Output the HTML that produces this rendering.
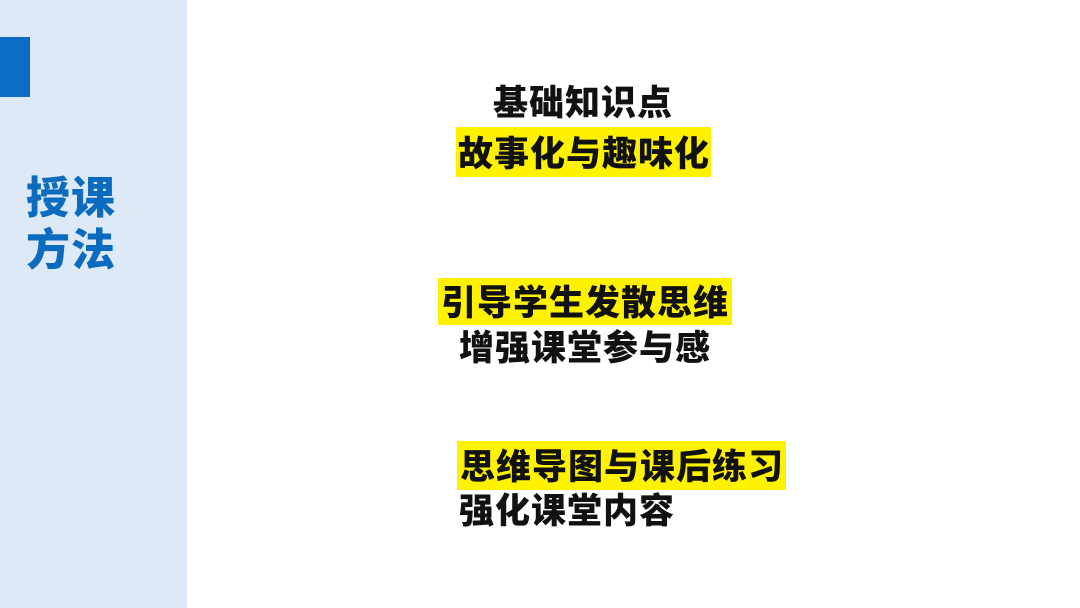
<!DOCTYPE html>
<html><head><meta charset="utf-8"><style>
body{margin:0;width:1080px;height:608px;background:#fff;position:relative;overflow:hidden;font-family:"Liberation Sans","Noto Sans CJK SC",sans-serif;}
.p{position:absolute;left:0;top:0;width:187px;height:608px;background:#dde9f6;}
.bar{position:absolute;left:0;top:37px;width:30px;height:60px;background:#0a6cc4;}
.t{position:absolute;left:26px;font-size:44px;font-weight:900;color:#0b6cbf;line-height:52px;letter-spacing:1px;}
.x{position:absolute;font-size:35px;font-weight:900;color:#111;line-height:36px;white-space:nowrap;letter-spacing:1px;}
.y{background:#fff200;}
</style></head><body>
<div class="p"></div><div class="bar"></div>
<div class="t" style="top:173px">授课<br>方法</div>
<div class="x" style="left:493px;top:86px">基础知识点</div>
<div class="x y" style="left:456px;top:127px;width:253px;height:36px;padding:10px 0 4px 2px">故事化与趣味化</div>
<div class="x y" style="left:438px;top:278px;width:291px;height:36px;padding:8px 0 3px 3px">引导学生发散思维</div>
<div class="x" style="left:459px;top:331px">增强课堂参与感</div>
<div class="x y" style="left:457px;top:441px;width:326px;height:36px;padding:9px 0 4px 3px">思维导图与课后练习</div>
<div class="x" style="left:459px;top:494px">强化课堂内容</div>
</body></html>
